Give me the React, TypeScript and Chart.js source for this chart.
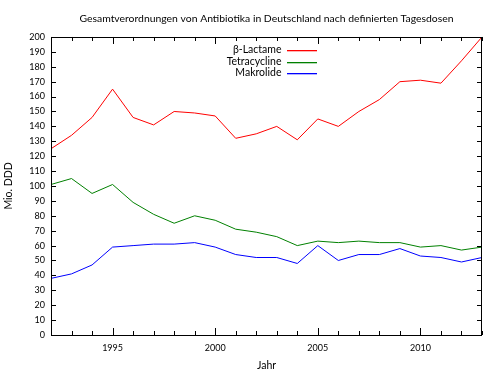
import React, { useEffect, useRef } from "react";
import { Chart, registerables } from "chart.js";

Chart.register(...registerables);

const years = [1992, 1993, 1994, 1995, 1996, 1997, 1998, 1999, 2000, 2001, 2002, 2003, 2004, 2005, 2006, 2007, 2008, 2009, 2010, 2011, 2012, 2013];
const betaLactame = [125, 134, 146, 165, 146, 141, 150, 149, 147, 132, 135, 140, 131, 145, 140, 150, 158, 170, 171, 169, 184, 200];
const tetracycline = [101, 105, 95, 101, 89, 81, 75, 80, 77, 71, 69, 66, 60, 63, 62, 63, 62, 62, 59, 60, 57, 59];
const makrolide = [38, 41, 47, 59, 60, 61, 61, 62, 59, 54, 52, 52, 48, 60, 50, 54, 54, 58, 53, 52, 49, 52];
const xTickLabels = [1995, 2000, 2005, 2010];
const seriesNames = ["β-Lactame", "Tetracycline", "Makrolide"];
const seriesColors = ["#ff0000", "#008000", "#0000ff"];

const FONT = "Lato, 'Open Sans', sans-serif";

const framePlugin = {
  id: "frameTicks",
  afterDatasetsDraw(chart: any) {
    const { ctx, chartArea: a, scales } = chart;
    const x = scales.x;
    const y = scales.y;
    ctx.save();
    ctx.strokeStyle = "#000";
    ctx.lineWidth = 1;
    ctx.beginPath();
    for (let v = 0; v <= 200; v += 10) {
      const py = Math.round(y.getPixelForValue(v)) + 0.5;
      ctx.moveTo(a.left, py);
      ctx.lineTo(a.left + 5, py);
      ctx.moveTo(a.right, py);
      ctx.lineTo(a.right - 5, py);
    }
    for (const yr of years) {
      const px = Math.round(x.getPixelForValue(yr)) + 0.5;
      const len = yr % 5 === 0 ? 7 : 4;
      ctx.moveTo(px, a.bottom);
      ctx.lineTo(px, a.bottom - len);
      ctx.moveTo(px, a.top);
      ctx.lineTo(px, a.top + len);
    }
    ctx.stroke();
    ctx.strokeRect(Math.round(a.left) + 0.5, Math.round(a.top) + 0.5, Math.round(a.right - a.left) - 1, Math.round(a.bottom - a.top));
    // legend
    const cx = (a.left + a.right) / 2;
    ctx.font = `10.5px ${FONT}`;
    ctx.textAlign = "right";
    ctx.textBaseline = "middle";
    chart.data.datasets.forEach((ds: any, i: number) => {
      const ly = Math.round(a.top + 13 + i * 11.7);
      ctx.fillStyle = "#000";
      ctx.fillText(ds.label, cx + 15, ly);
      ctx.fillStyle = seriesColors[i];
      ctx.fillRect(Math.round(cx + 20), ly, 30, 1.3);
    });
    ctx.restore();
  },
};

export default function App() {
  const ref = useRef<HTMLCanvasElement>(null);
  useEffect(() => {
    document.body.style.margin = "0";
    const seriesData = [betaLactame, tetracycline, makrolide];
    const chart = new Chart(ref.current!, {
      type: "line",
      data: {
        datasets: seriesData.map((vals, i) => ({
          label: seriesNames[i],
          data: years.map((yr, j) => ({ x: yr, y: vals[j] })),
          borderColor: seriesColors[i],
          borderWidth: 1,
          pointRadius: 0,
          tension: 0,
          fill: false,
        })),
      },
      options: {
        animation: false,
        responsive: false,
        layout: { padding: { left: 0, right: 18, top: 0, bottom: 0 } },
        plugins: {
          legend: { display: false },
          tooltip: { enabled: false },
          title: {
            display: true,
            fullSize: false,
            text: "Gesamtverordnungen von Antibiotika in Deutschland nach definierten Tagesdosen",
            color: "#000",
            font: { family: FONT, size: 10.4, weight: "normal" },
            padding: { top: 12, bottom: 12.5 },
          },
        },
        scales: {
          x: {
            type: "linear",
            min: 1992,
            max: 2013,
            afterBuildTicks: (s: any) => {
              s.ticks = xTickLabels.map((v) => ({ value: v }));
            },
            afterFit: (s: any) => {
              s.height = 40;
            },
            grid: { display: false, drawTicks: false },
            border: { display: false },
            ticks: {
              color: "#000",
              font: { family: FONT, size: 9 },
              padding: 8,
              maxRotation: 0,
              callback: (v: any) => String(v),
            },
            title: {
              display: true,
              text: "Jahr",
              color: "#000",
              font: { family: FONT, size: 10.5 },
              padding: { top: 4, bottom: 3 },
            },
          },
          y: {
            min: 0,
            max: 200,
            afterFit: (s: any) => {
              s.width = 51;
            },
            grid: { display: false, drawTicks: false },
            border: { display: false },
            ticks: {
              stepSize: 10,
              color: "#000",
              font: { family: FONT, size: 9 },
              padding: 6,
              autoSkip: false,
            },
            title: {
              display: true,
              text: "Mio. DDD",
              color: "#000",
              font: { family: FONT, size: 10.5 },
              padding: { top: 2, bottom: 0 },
            },
          },
        },
      },
      plugins: [framePlugin],
    });
    return () => chart.destroy();
  }, []);
  return (
    <div style={{ position: "absolute", left: 0, top: 0, width: 500, height: 375, background: "#fff" }}>
      <canvas ref={ref} width={500} height={375} style={{ width: 500, height: 375 }} />
    </div>
  );
}
